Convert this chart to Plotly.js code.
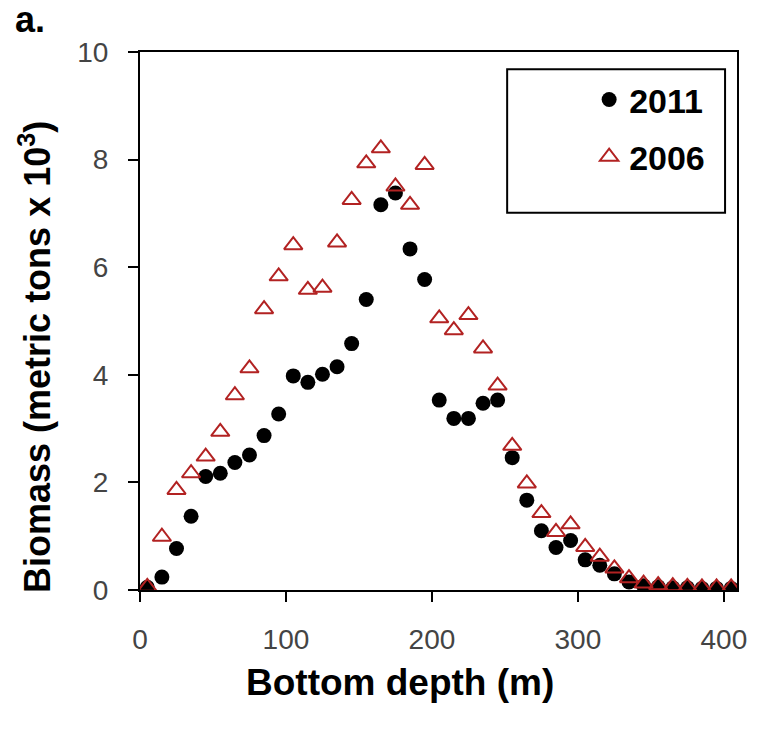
<!DOCTYPE html>
<html>
<head>
<meta charset="utf-8">
<script src="https://cdn.plot.ly/plotly-3.0.1.min.js"></script>
<style>html,body{margin:0;padding:0;background:#fff;}#chart{width:757px;height:734px;}</style>
</head>
<body>
<div id="chart"></div>
<script>
// Bottom depth bins (m)
const depth = [5,15,25,35,45,55,65,75,85,95,105,115,125,135,145,155,165,175,185,195,205,215,225,235,245,255,265,275,285,295,305,315,325,335,345,355,365,375,385,395,405];
// Biomass (metric tons x 10^3)
const biomass2011 = [0.05,0.24,0.77,1.37,2.11,2.17,2.37,2.51,2.87,3.27,3.98,3.86,4.01,4.15,4.58,5.40,7.16,7.38,6.34,5.77,3.53,3.19,3.19,3.47,3.53,2.46,1.67,1.10,0.79,0.92,0.56,0.46,0.30,0.15,0.08,0.06,0.04,0.04,0.03,0.03,0.03];
const biomass2006 = [0.06,0.99,1.86,2.17,2.48,2.94,3.62,4.12,5.22,5.83,6.41,5.58,5.62,6.46,7.25,7.93,8.21,7.50,7.16,7.90,5.05,4.83,5.11,4.49,3.80,2.68,1.98,1.43,1.08,1.22,0.80,0.62,0.40,0.22,0.12,0.09,0.07,0.06,0.05,0.05,0.05];
const seriesNames = ["2011", "2006"];
const xTicks = [0,100,200,300,400];
const yTicks = [0,2,4,6,8,10];
const xTitle = "Bottom depth (m)";
const yTitle = "Biomass (metric tons x 10<sup>3</sup>)";
const panelLabel = "a.";

const FONT = "Liberation Sans, Arial, sans-serif";

const traces = [
  {
    x: depth, y: biomass2011, name: seriesNames[0], type: "scatter", mode: "markers",
    marker: {symbol: "circle", size: 15, color: "#000000"},
    legendgroup: "a"
  },
  {
    x: depth, y: biomass2006, name: seriesNames[1], type: "scatter", mode: "markers",
    marker: {symbol: "triangle-up-open", size: 16, color: "#b22222", line: {width: 2, color: "#b22222"}},
    legendgroup: "b"
  }
];

const layout = {
  width: 757, height: 734,
  margin: {l: 140, r: 20, t: 52, b: 144, pad: 0},
  paper_bgcolor: "#ffffff", plot_bgcolor: "#ffffff",
  font: {family: FONT, color: "#000"},
  showlegend: true,
  legend: {
    x: 0.955, xanchor: "right", y: 0.965, yanchor: "top",
    bgcolor: "rgba(0,0,0,0)", borderwidth: 0,
    font: {family: FONT, size: 34, weight: "bold", color: "#000"},
    tracegroupgap: 10
  },
  xaxis: {
    range: [0, 409], tickvals: xTicks, ticktext: xTicks.map(String),
    showgrid: false, zeroline: false,
    showline: true, linecolor: "#000", linewidth: 2, mirror: true,
    ticks: "outside", ticklen: 10, tickwidth: 2, tickcolor: "#000",
    ticklabelstandoff: 13,
    tickfont: {family: FONT, size: 28, color: "#444"}
  },
  yaxis: {
    range: [0, 10], tickvals: yTicks, ticktext: yTicks.map(String),
    showgrid: false, zeroline: false,
    showline: true, linecolor: "#000", linewidth: 2, mirror: true,
    ticks: "outside", ticklen: 10, tickwidth: 2, tickcolor: "#000",
    ticklabelstandoff: 14,
    tickfont: {family: FONT, size: 28, color: "#444"}
  },
  shapes: [
    {type: "rect", xref: "paper", yref: "paper", x0: 0.615, x1: 0.980, y0: 0.701, y1: 0.968,
     line: {color: "#000", width: 2}, fillcolor: "rgba(0,0,0,0)", layer: "above"}
  ],
  annotations: [
    {text: panelLabel, xref: "paper", yref: "paper", x: -0.212, y: 1.06, xanchor: "left", yanchor: "middle",
     showarrow: false, font: {family: FONT, size: 36, weight: "bold", color: "#000"}},
    {text: xTitle, xref: "paper", yref: "paper", x: 0.4355, y: -0.172, xanchor: "center", yanchor: "middle",
     showarrow: false, font: {family: FONT, size: 37, weight: "bold", color: "#000"}},
    {text: yTitle, xref: "paper", yref: "paper", x: -0.176, y: 0.433, xanchor: "center", yanchor: "middle",
     textangle: -90, showarrow: false, font: {family: FONT, size: 36, weight: "bold", color: "#000"}}
  ]
};

Plotly.newPlot("chart", traces, layout, {displayModeBar: false, staticPlot: true});
</script>
</body>
</html>
